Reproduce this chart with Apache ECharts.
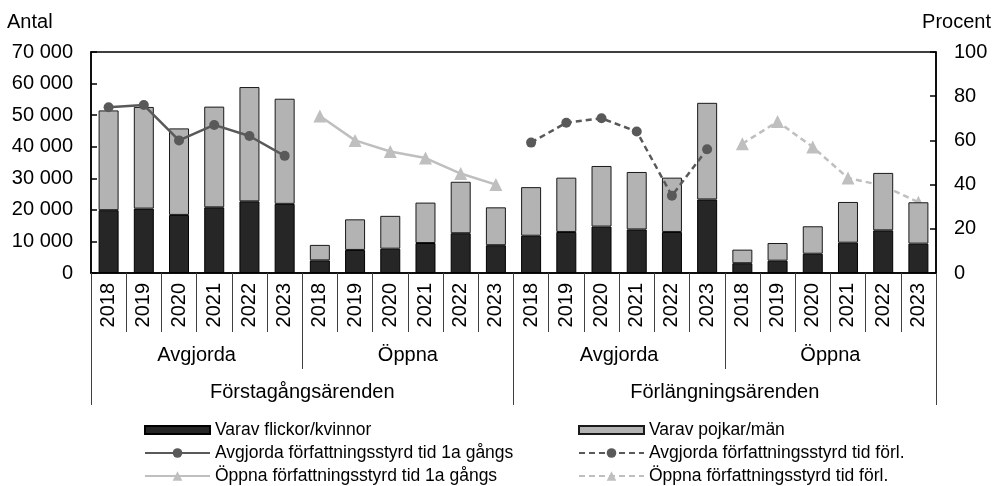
<!DOCTYPE html>
<html>
<head>
<meta charset="utf-8">
<script src="https://cdn.jsdelivr.net/npm/echarts@6/dist/echarts.min.js"></script>
<style>
html,body{margin:0;padding:0;background:#fff;}
#chart{width:992px;height:486px;}
</style>
</head>
<body>
<div id="chart"></div>
<script>
// ---- data ----
const years = ['2018', '2019', '2020', '2021', '2022', '2023'];
const groups = ['Avgjorda', 'Öppna', 'Avgjorda', 'Öppna'];
const superGroups = ['Förstagångsärenden', 'Förlängningsärenden'];

const flickor = [19900, 20400, 18400, 20800, 22700, 21900,
                 4000, 7300, 7700, 9500, 12600, 8800,
                 11800, 13000, 14700, 13800, 13000, 23300,
                 3100, 3900, 6100, 9600, 13500, 9300];
const pojkar = [31600, 32200, 27400, 31900, 36200, 33300,
                4900, 9700, 10400, 12800, 16300, 12000,
                15400, 17200, 19200, 18200, 17200, 30600,
                4300, 5600, 8700, 12900, 18200, 13100];

const avgjorda1a = [75, 76, 60, 67, 62, 53];
const oppna1a = [71, 60, 55, 52, 45, 40];
const avgjordaForl = [59, 68, 70, 64, 35, 56];
const oppnaForl = [58.5, 68.5, 57, 43, 39.5, 32];

const leftTicks = [0, 10000, 20000, 30000, 40000, 50000, 60000, 70000];
const rightTicks = [0, 20, 40, 60, 80, 100];

// ---- build ----
const categories = [];
groups.forEach(() => years.forEach(y => categories.push(y)));
function place(vals, gi) {
  const out = new Array(categories.length).fill(null);
  vals.forEach((v, i) => { out[gi * years.length + i] = v; });
  return out;
}
const FONT = "'Liberation Sans', Arial, sans-serif";
const chart = echarts.init(document.getElementById('chart'), null, {renderer: 'canvas'});
const names = {
  f: 'Varav flickor/kvinnor', p: 'Varav pojkar/män',
  a1: 'Avgjorda författningsstyrd tid 1a gångs', af: 'Avgjorda författningsstyrd tid förl.',
  o1: 'Öppna författningsstyrd tid 1a gångs', of: 'Öppna författningsstyrd tid förl.'
};
const lineBase = (color, dashed, symbol, size, z) => ({
  type: 'line', yAxisIndex: 1, xAxisIndex: 0, z: z,
  symbol: symbol, symbolSize: size, showSymbol: true,
  itemStyle: {color: color, borderWidth: 0},
  lineStyle: {color: color, width: 2.5, type: dashed ? [6, 4] : 'solid'},
  emphasis: {disabled: true}, animation: false
});
const legendText = {fontFamily: FONT, fontSize: 17.5, color: '#000', lineHeight: 20};
function legend(left, top, data, h) {
  return {orient: 'vertical', left: left, top: top, padding: 0, itemGap: 3,
    itemWidth: 65, itemHeight: h, textStyle: legendText, selectedMode: false, data: data};
}
const tickStyle = {color: '#404040', width: 1};
chart.setOption({
  animation: false,
  title: [
    {text: 'Antal', left: 7, top: 12, padding: 0, textStyle: {fontFamily: FONT, fontSize: 20, fontWeight: 'normal', color: '#000'}},
    {text: 'Procent', right: 1, top: 12, padding: 0, textStyle: {fontFamily: FONT, fontSize: 20, fontWeight: 'normal', color: '#000'}}
  ],
  grid: {left: 91, right: 56, top: 52, bottom: 213, show: true, borderColor: '#000', borderWidth: 1.5, backgroundColor: 'transparent'},
  legend: [
    legend(144, 420, [{name: names.f, icon: 'rect'}], 8),
    legend(144, 443, [names.a1, names.o1], 12),
    legend(578, 420, [{name: names.p, icon: 'rect'}], 8),
    legend(578, 443, [names.af, names.of], 12)
  ],
  xAxis: [
    {type: 'category', data: categories, position: 'bottom',
     axisLine: {show: true, lineStyle: {color: '#000', width: 1.5}},
     axisTick: {show: true, interval: 0, length: 59, lineStyle: tickStyle},
     axisLabel: {interval: 0, rotate: 90, margin: 10, fontFamily: FONT, fontSize: 20, color: '#000'}},
    {type: 'category', data: groups, position: 'bottom',
     axisLine: {show: false},
     axisTick: {show: true, interval: 0, length: 96, lineStyle: tickStyle},
     axisLabel: {interval: 0, margin: 72, fontFamily: FONT, fontSize: 20, color: '#000'}},
    {type: 'category', data: superGroups, position: 'bottom',
     axisLine: {show: false},
     axisTick: {show: true, interval: 0, length: 132, lineStyle: tickStyle},
     axisLabel: {interval: 0, margin: 109, fontFamily: FONT, fontSize: 20, color: '#000'}}
  ],
  yAxis: [
    {type: 'value', min: leftTicks[0], max: leftTicks[leftTicks.length - 1], interval: leftTicks[1] - leftTicks[0],
     axisLine: {show: true, lineStyle: {color: '#000', width: 1.5}},
     axisTick: {show: true, inside: true, length: 6, lineStyle: {color: '#000', width: 1.5}},
     splitLine: {show: false},
     axisLabel: {margin: 18, fontFamily: FONT, fontSize: 20, color: '#000',
       formatter: v => v === 0 ? '0' : (v / 1000) + ' 000'}},
    {type: 'value', position: 'right', min: rightTicks[0], max: rightTicks[rightTicks.length - 1], interval: rightTicks[1] - rightTicks[0],
     axisLine: {show: true, lineStyle: {color: '#000', width: 1.5}},
     axisTick: {show: true, inside: true, length: 6, lineStyle: {color: '#000', width: 1.5}},
     splitLine: {show: false},
     axisLabel: {margin: 18, fontFamily: FONT, fontSize: 20, color: '#000'}}
  ],
  series: [
    {name: names.f, type: 'bar', stack: 'tot', data: flickor, barWidth: 20,
     itemStyle: {color: '#262626', borderColor: '#000', borderWidth: 1}},
    {name: names.p, type: 'bar', stack: 'tot', data: pojkar, barWidth: 20,
     itemStyle: {color: '#b3b3b3', borderColor: '#1a1a1a', borderWidth: 1}},
    Object.assign({name: names.a1, data: place(avgjorda1a, 0)}, lineBase('#595959', false, 'circle', 10, 3)),
    Object.assign({name: names.af, data: place(avgjordaForl, 2)}, lineBase('#595959', true, 'circle', 10, 3)),
    Object.assign({name: names.o1, data: place(oppna1a, 1)}, lineBase('#bfbfbf', false, 'triangle', 13, 1)),
    Object.assign({name: names.of, data: place(oppnaForl, 3)}, lineBase('#bfbfbf', true, 'triangle', 13, 1))
  ]
});
</script>
</body>
</html>
